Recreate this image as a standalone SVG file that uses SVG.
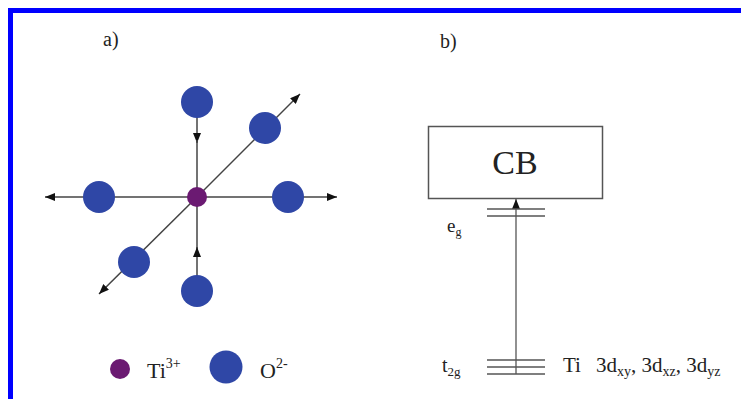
<svg xmlns="http://www.w3.org/2000/svg" width="741" height="399" viewBox="0 0 741 399">
<defs>
<style>
.ln{stroke:#444;stroke-width:1.5;fill:none}
.lv{stroke:#555;stroke-width:1.3;fill:none}
.o{fill:#2f47a6}
.ti{fill:#6b1a72}
text{font-family:"Liberation Serif","Times New Roman",serif;fill:#222}
</style>
<marker id="ah" viewBox="0 0 10 8" refX="10" refY="4" markerWidth="10" markerHeight="8" markerUnits="userSpaceOnUse" orient="auto">
<path d="M0,0 L10,4 L0,8 z" fill="#111"/>
</marker>
</defs>
<rect x="0" y="0" width="741" height="399" fill="#fff"/>
<rect x="10.5" y="10.5" width="800" height="500" fill="none" stroke="#0000ff" stroke-width="5"/>
<text x="103" y="46" font-size="20">a)</text>
<text x="440" y="48" font-size="20">b)</text>
<g id="connectors">
<line class="ln" x1="190" y1="197" x2="45" y2="197" marker-end="url(#ah)"/>
<line class="ln" x1="205" y1="197" x2="337" y2="197" marker-end="url(#ah)"/>
<line class="ln" x1="197" y1="197" x2="300" y2="94" marker-end="url(#ah)"/>
<line class="ln" x1="197" y1="197" x2="99" y2="294" marker-end="url(#ah)"/>
<line class="ln" x1="197" y1="115" x2="197" y2="143" marker-end="url(#ah)"/>
<line class="ln" x1="197" y1="140" x2="197" y2="250"/>
<line class="ln" x1="197" y1="280" x2="197" y2="247" marker-end="url(#ah)"/>
<line class="lv" x1="516" y1="374" x2="516" y2="199" marker-end="url(#ah)"/>
</g>
<g id="ti-center"><circle class="ti" cx="197" cy="197" r="10"/></g>
<g id="o-top"><circle class="o" cx="197" cy="102" r="16"/></g>
<g id="o-upright"><circle class="o" cx="265" cy="128" r="16"/></g>
<g id="o-left"><circle class="o" cx="99" cy="197" r="16"/></g>
<g id="o-right"><circle class="o" cx="288" cy="197" r="16"/></g>
<g id="o-lowleft"><circle class="o" cx="134" cy="262" r="16"/></g>
<g id="o-bottom"><circle class="o" cx="197" cy="291" r="16"/></g>
<g id="legend">
<circle class="ti" cx="120" cy="369" r="10"/>
<text x="147" y="378" font-size="22">Ti<tspan font-size="14" dy="-10">3+</tspan></text>
<circle class="o" cx="226" cy="367" r="16.5"/>
<text x="260" y="378" font-size="22">O<tspan font-size="14" dy="-10">2-</tspan></text>
</g>
<g id="cb">
<rect x="428.5" y="126.5" width="174" height="72" fill="#fff" stroke="#555" stroke-width="1.5"/>
<text x="515" y="174" font-size="34" text-anchor="middle">CB</text>
</g>
<g id="eg">
<line class="lv" x1="487" y1="209" x2="545" y2="209"/>
<line class="lv" x1="487" y1="216" x2="545" y2="216"/>
<text x="447" y="232" font-size="19">e<tspan font-size="12" dy="4">g</tspan></text>
</g>
<g id="t2g">
<line class="lv" x1="487" y1="360" x2="545" y2="360"/>
<line class="lv" x1="487" y1="367" x2="545" y2="367"/>
<line class="lv" x1="487" y1="374" x2="545" y2="374"/>
<text x="442" y="372" font-size="20">t<tspan font-size="13" dy="4">2g</tspan></text>
<text x="563" y="372" font-size="21">Ti<tspan dx="15">3d</tspan><tspan font-size="14" dy="4">xy</tspan><tspan dy="-4">, 3d</tspan><tspan font-size="14" dy="4">xz</tspan><tspan dy="-4">, 3d</tspan><tspan font-size="14" dy="4">yz</tspan></text>
</g>
</svg>
